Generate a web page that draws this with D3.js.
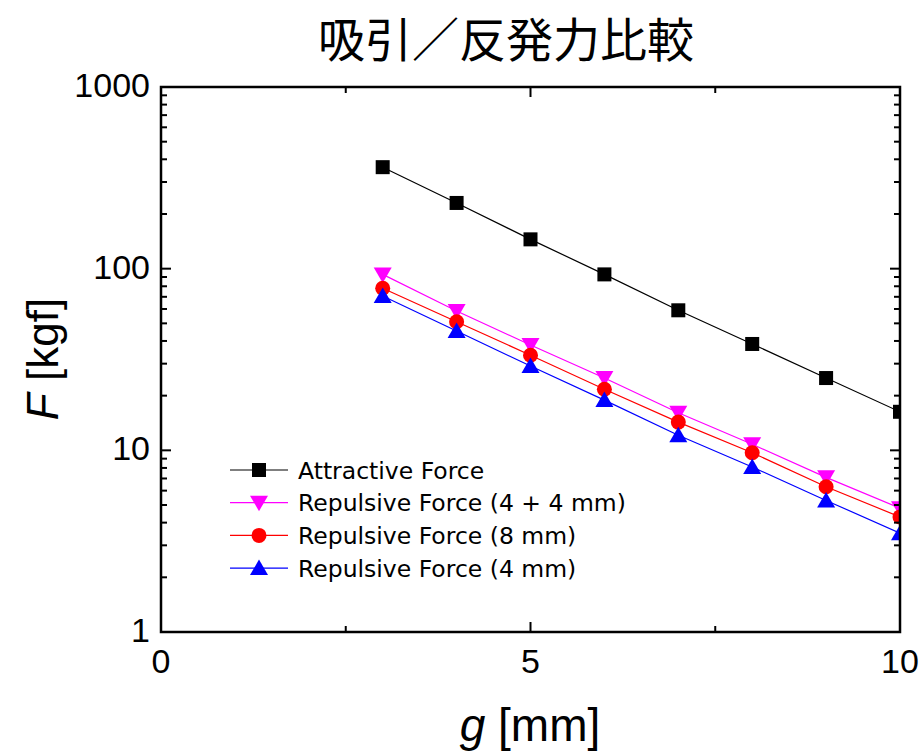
<!DOCTYPE html>
<html><head><meta charset="utf-8">
<script src="https://cdn.jsdelivr.net/npm/d3@7"></script>
<style>body{margin:0;background:#fff}svg{display:block}</style>
</head><body>
<script>
const gap = [3, 4, 5, 6, 7, 8, 9, 10];
const attractive = [362, 230, 145, 93, 59, 38.5, 25, 16.3];
const rep44 = [93, 58.5, 38, 25, 16.1, 10.8, 7.1, 4.8];
const rep8 = [78, 51, 33.4, 21.7, 14.3, 9.7, 6.3, 4.3];
const rep4 = [70.7, 45.4, 29.1, 18.9, 12.1, 8.1, 5.3, 3.5];
const seriesNames = ["Attractive Force", "Repulsive Force (4 + 4 mm)", "Repulsive Force (8 mm)", "Repulsive Force (4 mm)"];
const seriesColors = ["#000000", "#ff00ff", "#ff0000", "#0000ff"];
const seriesSymbols = ["square", "triDown", "circle", "triUp"];
const xTicks = [0, 5, 10];
const xMinor = [2.5, 7.5];
const yTicks = [1, 10, 100, 1000];
const title = "吸引／反発力比較";

const W = 921, H = 751;
const L = 161, R = 900, T = 87, B = 632;
const svg = d3.select("body").append("svg").attr("width", W).attr("height", H);
const x = d3.scaleLinear().domain([0, 10]).range([L, R]);
const y = d3.scaleLog().domain([1, 1000]).range([B, T]);

const sans = "'Liberation Sans', Arial, sans-serif";

svg.append("clipPath").attr("id", "clip").append("rect").attr("x", L).attr("y", T).attr("width", R - L).attr("height", B - T);

const data = [attractive, rep44, rep8, rep4];
const line = d3.line().x((d, i) => x(gap[i])).y(d => y(d));
function sym(g, type, color) {
  if (type === "square") g.append("rect").attr("x", -7).attr("y", -7).attr("width", 14).attr("height", 14).attr("fill", color);
  else if (type === "circle") g.append("circle").attr("r", 7.5).attr("fill", color);
  else if (type === "triUp") g.append("path").attr("d", "M0,-8.5L9,7L-9,7Z").attr("fill", color);
  else g.append("path").attr("d", "M0,8.5L9,-7L-9,-7Z").attr("fill", color);
}
const plot = svg.append("g").attr("clip-path", "url(#clip)");
data.forEach((vals, k) => {
  plot.append("path").attr("d", line(vals)).attr("fill", "none").attr("stroke", seriesColors[k]).attr("stroke-width", 1.2);
});
data.forEach((vals, k) => {
  vals.forEach((v, i) => {
    const g = plot.append("g").attr("transform", `translate(${x(gap[i])},${y(v)})`);
    sym(g, seriesSymbols[k], seriesColors[k]);
  });
});

const ax = svg.append("g").attr("stroke", "#000").attr("stroke-width", 2);
xTicks.forEach(t => {
  ax.append("line").attr("x1", x(t)).attr("x2", x(t)).attr("y1", B).attr("y2", B - 10);
  ax.append("line").attr("x1", x(t)).attr("x2", x(t)).attr("y1", T).attr("y2", T + 10);
});
xMinor.forEach(t => {
  ax.append("line").attr("x1", x(t)).attr("x2", x(t)).attr("y1", B).attr("y2", B - 6);
  ax.append("line").attr("x1", x(t)).attr("x2", x(t)).attr("y1", T).attr("y2", T + 6);
});
const yMinor = [];
for (let d = 1; d < 1000; d *= 10) for (let m = 2; m <= 9; m++) yMinor.push(d * m);
yTicks.forEach(t => {
  ax.append("line").attr("x1", L).attr("x2", L + 10).attr("y1", y(t)).attr("y2", y(t));
  ax.append("line").attr("x1", R).attr("x2", R - 10).attr("y1", y(t)).attr("y2", y(t));
});
yMinor.forEach(t => {
  ax.append("line").attr("x1", L).attr("x2", L + 6).attr("y1", y(t)).attr("y2", y(t));
  ax.append("line").attr("x1", R).attr("x2", R - 6).attr("y1", y(t)).attr("y2", y(t));
});
svg.append("rect").attr("x", L).attr("y", T).attr("width", R - L).attr("height", B - T)
  .attr("fill", "none").attr("stroke", "#000").attr("stroke-width", 2.5);

xTicks.forEach(t => {
  svg.append("text").attr("x", x(t)).attr("y", 673).attr("text-anchor", "middle")
    .attr("font-family", sans).attr("font-size", 34).text(t);
});
yTicks.forEach(t => {
  svg.append("text").attr("x", 150).attr("y", y(t) + 10).attr("text-anchor", "end")
    .attr("font-family", sans).attr("font-size", 34).text(t);
});

const xl = svg.append("text").attr("x", 530).attr("y", 741).attr("text-anchor", "middle")
  .attr("font-family", sans).attr("font-size", 46);
xl.append("tspan").attr("font-style", "italic").text("g");
xl.append("tspan").text(" [mm]");
const yl = svg.append("text").attr("transform", "translate(58,359) rotate(-90)").attr("text-anchor", "middle")
  .attr("font-family", sans).attr("font-size", 44);
yl.append("tspan").attr("font-style", "italic").text("F");
yl.append("tspan").text(" [kgf]");

svg.append("text").attr("x", 506).attr("y", 57).attr("text-anchor", "middle")
  .attr("font-family", "'Noto Sans CJK JP', sans-serif").attr("font-size", 47)
  .text(title);

seriesNames.forEach((n, k) => {
  const yy = 470 + k * 32.7;
  svg.append("line").attr("x1", 230).attr("x2", 288).attr("y1", yy).attr("y2", yy)
    .attr("stroke", seriesColors[k]).attr("stroke-width", 1.2);
  const g = svg.append("g").attr("transform", `translate(259,${yy})`);
  sym(g, seriesSymbols[k], seriesColors[k]);
  svg.append("text").attr("x", 298).attr("y", yy + 8.5).attr("font-family", "'DejaVu Sans', sans-serif")
    .attr("font-size", 23.5).text(n);
});
</script>
</body></html>
